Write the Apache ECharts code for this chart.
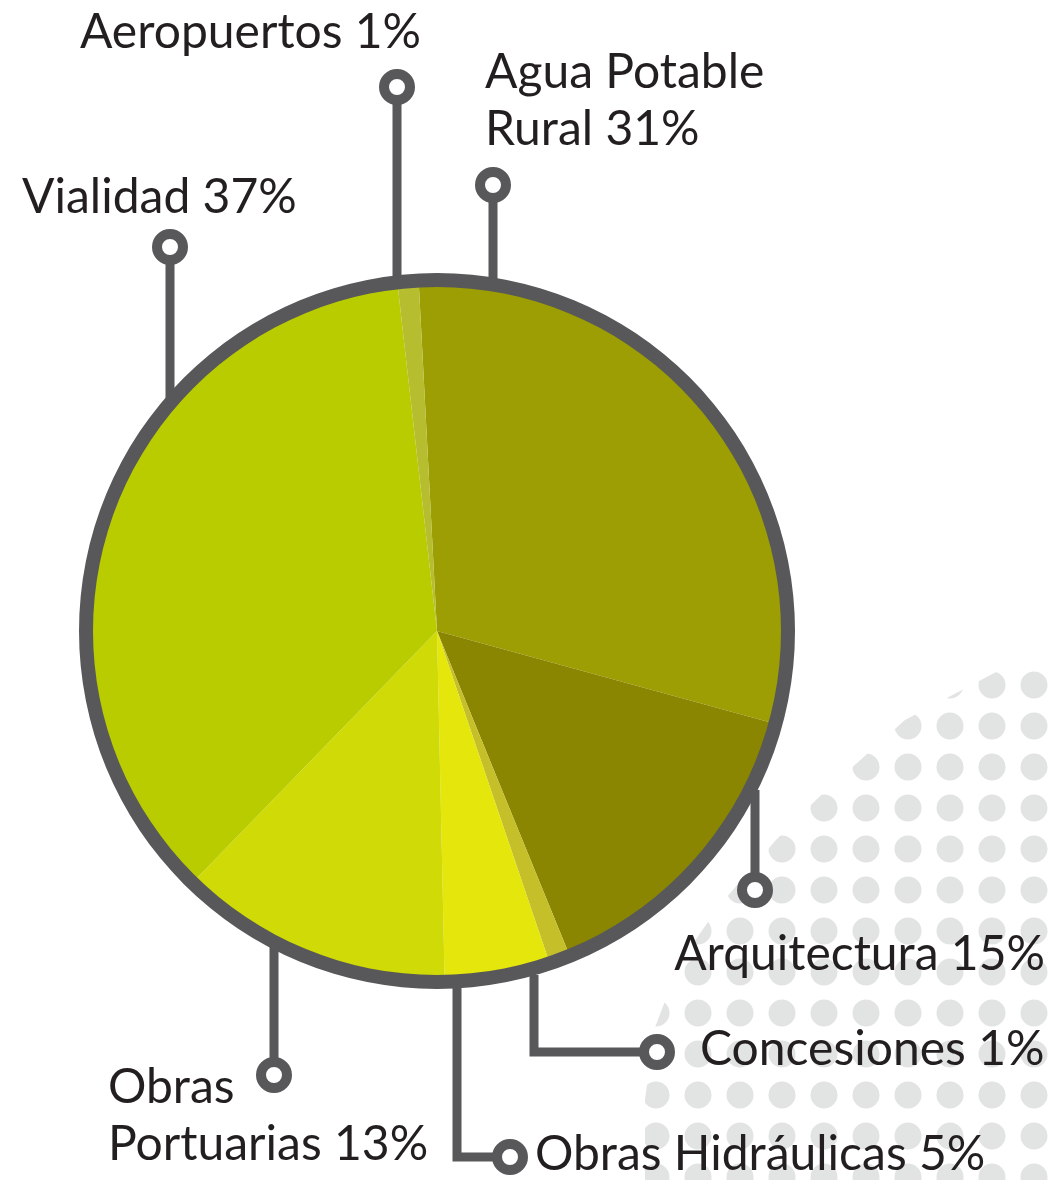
<!DOCTYPE html>
<html>
<head>
<meta charset="utf-8">
<script src="https://cdn.jsdelivr.net/npm/echarts@6/dist/echarts.min.js"></script>
<style>
  html, body { margin: 0; padding: 0; background: #fff; }
  #chart { width: 1055px; height: 1180px; }
</style>
</head>
<body>
<div id="chart"></div>
<script>
// data (clockwise from top)
var categories = ['Agua Potable Rural', 'Arquitectura', 'Concesiones', 'Obras Hidráulicas',
                  'Obras Portuarias', 'Vialidad', 'Aeropuertos'];
var values = [31, 15, 1, 5, 13, 37, 1];
var colors = ['#9c9e03', '#8a8601', '#c5c02a', '#e5e60b', '#d0da06', '#b9cc00', '#b6be30'];
// where the two-line labels wrap (words on first line)
var firstLineWords = { 'Agua Potable Rural': 2, 'Obras Portuarias': 1 };

// annotation layout: label anchor + guide line points (last point = ring)
var labelPos = [
  { x: 485, y: 101, align: 'left', pts: [[493, 285], [493, 185]] },
  { x: 1045, y: 955, align: 'right', pts: [[755, 790], [755, 890]] },
  { x: 700, y: 1050, align: 'left', pts: [[534, 975], [534, 1052], [657, 1052]] },
  { x: 535, y: 1155, align: 'left', pts: [[457, 985], [457, 1157], [510, 1157]] },
  { x: 108, y: 1116, align: 'left', pts: [[274, 945], [274, 1075]] },
  { x: 22, y: 198, align: 'left', pts: [[170, 398], [170, 247]] },
  { x: 80, y: 33, align: 'left', pts: [[397, 282], [397, 87]] }
];

var center = [437, 631];
var lineColor = '#58585a';

var chart = echarts.init(document.getElementById('chart'));

var graphics = [];

// dotted background, bottom right
for (var r = 0; r < 13; r++) {
  for (var c = 0; c < 11; c++) {
    graphics.push({
      type: 'circle', z: 0, silent: true,
      shape: { cx: 1034 - c * 42, cy: 685 + r * 41, r: 13.5 },
      style: { fill: '#e2e3e3' }
    });
  }
}
// white mask giving the dots their curved edge
graphics.push({
  type: 'polygon', z: 1, silent: true,
  shape: { points: [[1055, 560], [1055, 652], [1000, 670], [905, 720], [818, 798], [776, 840],
                    [720, 905], [680, 962], [654, 1030], [645, 1100], [645, 1180], [540, 1180], [540, 560]] },
  style: { fill: '#fff' }
});
// thick rim round the pie
graphics.push({
  type: 'ring', z: 10, silent: true,
  shape: { cx: center[0], cy: center[1], r: 358, r0: 344 },
  style: { fill: lineColor }
});
// rings at the end of each guide line
labelPos.forEach(function (p) {
  var end = p.pts[p.pts.length - 1];
  graphics.push({
    type: 'circle', z: 11, silent: true,
    shape: { cx: end[0], cy: end[1], r: 13 },
    style: { fill: '#fff', stroke: lineColor, lineWidth: 10 }
  });
});

var option = {
  animation: false,
  graphic: graphics,
  series: [{
    type: 'pie',
    center: center,
    radius: 345,
    startAngle: 93,
    clockwise: true,
    avoidLabelOverlap: false,
    silent: true,
    data: categories.map(function (n, i) {
      return { name: n, value: values[i], itemStyle: { color: colors[i] } };
    }),
    label: {
      show: true,
      position: 'outside',
      formatter: function (params) {
        var words = params.name.split(' ');
        var k = firstLineWords[params.name];
        if (k) {
          return words.slice(0, k).join(' ') + '\n' + words.slice(k).join(' ') + ' ' + params.value + '%';
        }
        return params.name + ' ' + params.value + '%';
      },
      fontFamily: 'Lato',
      fontSize: 48,
      lineHeight: 57,
      color: '#231f20'
    },
    labelLine: {
      show: true,
      smooth: false,
      lineStyle: { color: lineColor, width: 9, cap: 'butt', join: 'miter' }
    },
    labelLayout: function (params) {
      var p = labelPos[params.dataIndex];
      return {
        x: p.x, y: p.y, align: p.align, verticalAlign: 'middle',
        labelLinePoints: p.pts.length === 2 ? [p.pts[0], p.pts[1], p.pts[1]] : p.pts
      };
    }
  }]
};

chart.setOption(option);
</script>
</body>
</html>
